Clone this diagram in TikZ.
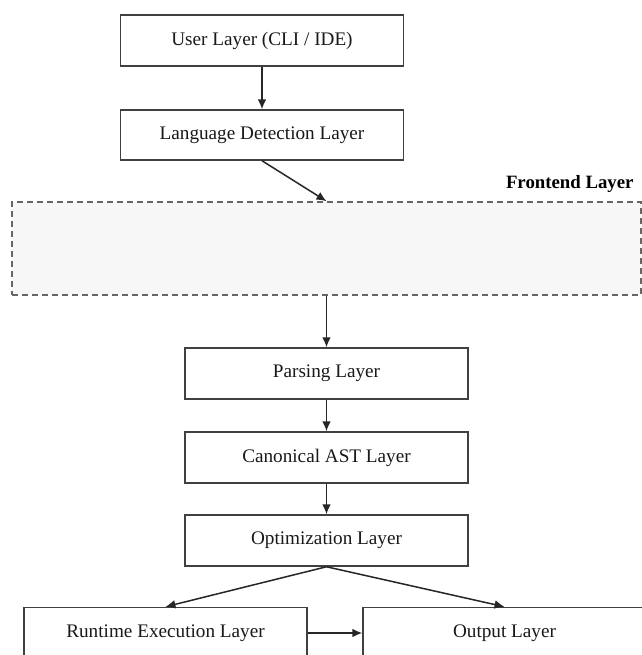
\documentclass[tikz,border=0pt]{standalone}
\usepackage{fontspec}
\setmainfont{Liberation Serif}
\usepackage[usenames,dvipsnames]{xcolor}
\usetikzlibrary{calc,arrows.meta}
\tikzset{
	layer/.style={draw=black!75, line width=0.75pt, minimum width=141.5pt, minimum height=25.5pt, inner sep=0pt, text=black!90, font=\fontsize{9.6}{11}\selectfont},
	group/.style={draw=black!60, line width=0.8pt, dash pattern=on 3pt off 2pt, fill=black!3, minimum width=314.5pt, minimum height=46.5pt, inner sep=0pt},
	link/.style={-{Latex[length=5pt,width=4.4pt]}, draw=black!85, line width=0.75pt}
}

\begin{document}
\begin{tikzpicture}[x=0.5pt, y=-0.5pt]
		\useasboundingbox[fill=white] (0, 0) rectangle (642, 655);
		\begin{scope}
		\clip (0, 0) rectangle (642, 655);
		\node(user)[layer, anchor=center] at (262, 40.5) {User Layer (CLI / IDE)};
		\node(lang)[layer, anchor=center, minimum height=25pt] at (262, 135) {Language Detection Layer};
		\node(front)[group, anchor=center] at (326.5, 248.5) {};
		\node(frontlbl)[anchor=base east, inner sep=0pt, font=\fontsize{9.4}{11}\selectfont\bfseries] at (634, 188) {Frontend Layer};
		\node(parse)[layer, anchor=center] at (326.5, 373.5) {Parsing Layer};
		\node(ast)[layer, anchor=center] at (326.5, 457.5) {Canonical AST Layer};
		\node(opt)[layer, anchor=center] at (326.5, 540.5) {Optimization Layer};
		\node(run)[layer, anchor=center] at (165.5, 633) {Runtime Execution Layer};
		\node(out)[layer, anchor=center] at (504.5, 633) {Output Layer};
		\draw[link] (user.south) -- (lang.north);
		\draw[link] (lang.south) -- (front.north);
		\draw[link] (front.south) -- (parse.north);
		\draw[link] (parse.south) -- (ast.north);
		\draw[link] (ast.south) -- (opt.north);
		\draw[link] (opt.south) -- (run.north);
		\draw[link] (opt.south) -- (out.north);
		\draw[link] (run.east) -- (out.west);
		\end{scope}
\end{tikzpicture}
\end{document}
